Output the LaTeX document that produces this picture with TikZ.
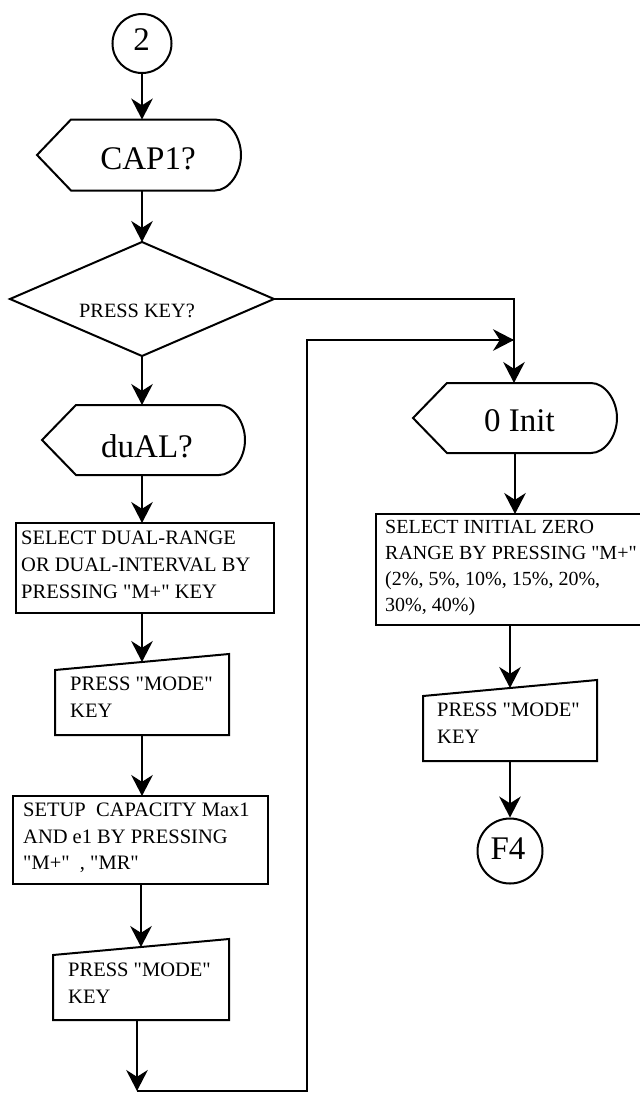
\documentclass[tikz,border=0pt]{standalone}
\usepackage{fontspec}
\newfontfamily\tnr{Liberation Serif}[Ligatures=TeXOff]
\usetikzlibrary{arrows.meta,shapes.geometric}
\newcommand\myDisp[1]{%
  \draw[ln] (#1.west) -- ([xshift=34pt]#1.north west) -- ([xshift=-26pt]#1.north east)
    .. controls ([xshift=-12pt]#1.north east) and ([yshift=18pt]#1.east) .. (#1.east)
    .. controls ([yshift=-18pt]#1.east) and ([xshift=-12pt]#1.south east) .. ([xshift=-26pt]#1.south east)
    -- ([xshift=34pt]#1.south west) -- cycle;}
\newcommand\myMan[1]{%
  \draw[ln] (#1.south west) -- ([yshift=-16pt]#1.north west) -- (#1.north east) -- (#1.south east) -- cycle;}
\begin{document}
\begin{tikzpicture}[x=1pt,y=-1pt,
  ln/.style={line width=2pt, line join=miter},
  arr/.style={ln, -{Stealth[scale length=1.75, scale width=2.4]}},
  shp/.style={inner sep=0pt, outer sep=0pt},
  big/.style={font=\tnr\fontsize{33pt}{36pt}\selectfont, inner sep=0pt},
  mid/.style={font=\tnr\fontsize{20.3pt}{24pt}\selectfont, inner sep=0pt},
  txt/.style={font=\tnr\fontsize{20.5pt}{26.7pt}\selectfont, inner sep=0pt, align=left, anchor=west},
]
\useasboundingbox (0,0) rectangle (640,1093);

% left column
\node[ln, draw, circle, minimum size=59pt, inner sep=0pt] (c2) at (142,43.5) {};
\node[big] (c2t) at (141.7,40) {2};

\node[shp, minimum width=204pt, minimum height=71pt] (cap1) at (139,155) {};
\myDisp{cap1}
\node[big] (cap1t) at (148,159) {CAP1?};

\node[ln, draw, diamond, minimum width=264pt, minimum height=114pt, inner sep=0pt, outer sep=0pt] (d) at (142,299) {};
\node[mid] (dt) at (137,311) {PRESS KEY?};

\node[shp, minimum width=203pt, minimum height=70pt] (dual) at (143.5,440) {};
\myDisp{dual}
\node[big] (dualt) at (147,446) {duAL?};

\node[ln, draw, shp, minimum width=258pt, minimum height=90pt] (box1) at (145,568) {};
\node[txt] (box1t) at (21,565) {SELECT DUAL-RANGE\\OR DUAL-INTERVAL BY\\PRESSING "M+" KEY};

\node[shp, minimum width=174pt, minimum height=81pt] (m1) at (142,694.5) {};
\myMan{m1}
\node[txt] (m1t) at (70,697.5) {PRESS "MODE"\\KEY};

\node[ln, draw, shp, minimum width=255pt, minimum height=88pt] (box2) at (140.5,840) {};
\node[txt] (box2t) at (23,838) {SETUP\ \ CAPACITY Max1\\AND e1 BY PRESSING\\"M+"\ \ , "MR"};

\node[shp, minimum width=176pt, minimum height=81pt] (m2) at (141,979.5) {};
\myMan{m2}
\node[txt] (m2t) at (68,983.5) {PRESS "MODE"\\KEY};

% right column
\node[shp, minimum width=204pt, minimum height=70pt] (init) at (515,418) {};
\myDisp{init}
\node[big] (initt) at (519.5,421) {0 Init};

\node[ln, draw, shp, minimum width=280pt, minimum height=111pt] (box3) at (516,569.5) {};
\node[txt, font=\tnr\fontsize{20pt}{25.7pt}\selectfont] (box3t) at (385,568) {SELECT INITIAL ZERO\\RANGE BY PRESSING "M+"\\(2\%, 5\%, 10\%, 15\%, 20\%,\\30\%, 40\%)};

\node[shp, minimum width=174pt, minimum height=81pt] (m3) at (510,720.5) {};
\myMan{m3}
\node[txt] (m3t) at (437,723.5) {PRESS "MODE"\\KEY};

\node[ln, draw, circle, minimum size=65pt, inner sep=0pt] (f4) at (510,851) {};
\node[big] (f4t) at (508,849) {F4};

% helper coordinates
\coordinate (bl) at (137,1091);
\coordinate (br) at (307,1091);
\coordinate (tr) at (307,340);
\coordinate (jn) at (514,340);

% connectors
\draw[arr] (c2.south) -- (c2.south |- cap1.north);
\draw[arr] (c2.south |- cap1.south) -- (d.north);
\draw[arr] (d.south) -- (d.south |- dual.north);
\draw[arr] (d.south |- dual.south) -- (d.south |- box1.north);
\draw[arr] (m1.north |- box1.south) -- ([yshift=-8pt]m1.north);
\draw[arr] (m1.south) -- (m1.south |- box2.north);
\draw[arr] (m2.north |- box2.south) -- ([yshift=-8pt]m2.north);
\draw[arr] ([xshift=-4pt]m2.south) -- (bl);
\draw[ln] (bl) -- (br) -- (tr) -- (jn);
\draw[arr] (tr) -- (jn);
\draw[arr] (d.east) -- (jn |- d.east) -- (jn |- init.north);
\draw[arr] (init.south) -- (init.south |- box3.north);
\draw[arr] (m3.north |- box3.south) -- ([yshift=-8pt]m3.north);
\draw[arr] (m3.south) -- (f4.north);
\end{tikzpicture}
\end{document}
